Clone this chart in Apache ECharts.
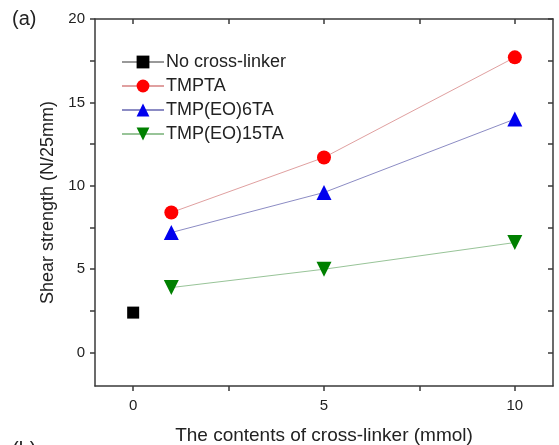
<!DOCTYPE html>
<html>
<head>
<meta charset="utf-8">
<script src="https://cdn.jsdelivr.net/npm/echarts@6/dist/echarts.min.js"></script>
<style>
html, body { margin: 0; padding: 0; background: #fff; }
#main { width: 559px; height: 445px; }
</style>
</head>
<body>
<div id="main"></div>
<script>
// contents of cross-linker (mmol)
var xContents = [1, 5, 10];
var noCrossX = [0];
var noCross = [2.4];
var tmpta = [8.4, 11.7, 17.7];
var tmpEo6 = [7.2, 9.6, 14.0];
var tmpEo15 = [3.9, 5.0, 6.6];
var xTicks = [0, 2.5, 5, 7.5, 10];
var xLabels = [0, 5, 10];
var yTicks = [0, 2.5, 5, 7.5, 10, 12.5, 15, 17.5, 20];
var yLabels = [0, 5, 10, 15, 20];

function pairs(xs, ys) {
	return xs.map(function(x, i) { return [x, ys[i]]; });
}

var font = 'Liberation Sans, Arial, sans-serif';
var axisCol = '#3a3a3a';

function xAx(pos, show) {
	return {
		type: 'value', position: pos, min: -1, max: 11,
		name: show ? 'The contents of cross-linker (mmol)' : '',
		nameLocation: 'middle', nameGap: 40,
		nameTextStyle: { fontFamily: font, fontSize: 19, color: '#222' },
		axisLine: { show: true, onZero: false, lineStyle: { color: axisCol, width: 1.5 } },
		axisTick: { show: true, inside: !show, length: 5, customValues: xTicks, lineStyle: { color: axisCol, width: 1.5 } },
		axisLabel: { show: show, customValues: xLabels, fontFamily: font, fontSize: 15, color: '#222', margin: 12 },
		splitLine: { show: false }
	};
}
function yAx(pos, show) {
	return {
		type: 'value', position: pos, min: -2, max: 20,
		name: show ? 'Shear strength (N/25mm)' : '',
		nameLocation: 'middle', nameGap: 35,
		nameTextStyle: { fontFamily: font, fontSize: 18, color: '#222' },
		axisLine: { show: true, onZero: false, lineStyle: { color: axisCol, width: 1.5 } },
		axisTick: { show: true, inside: !show, length: 5, customValues: yTicks, lineStyle: { color: axisCol, width: 1.5 } },
		axisLabel: { show: show, customValues: yLabels, fontFamily: font, fontSize: 15, color: '#222', margin: 10 },
		splitLine: { show: false }
	};
}

function ser(name, data, symbol, size, color, lineColor, rotate) {
	return {
		name: name, type: 'line', data: data,
		symbol: symbol, symbolSize: size, symbolRotate: rotate || 0,
		itemStyle: { color: color },
		lineStyle: { color: lineColor, width: 1 },
		z: 3
	};
}

var chart = echarts.init(document.getElementById('main'));
chart.setOption({
	animation: false,
	backgroundColor: '#fff',
	grid: { left: 95, right: 6, top: 19, bottom: 59, outerBoundsMode: 'none', containLabel: false },
	xAxis: [xAx('bottom', true), xAx('top', false)],
	yAxis: [yAx('left', true), yAx('right', false)],
	legend: {
		orient: 'vertical', left: 116, top: 48,
		itemWidth: 42, itemHeight: 16, itemGap: 6,
		textStyle: { fontFamily: font, fontSize: 18, color: '#222', padding: [0, 0, 0, -3] },
		data: ['No cross-linker', 'TMPTA', 'TMP(EO)6TA', 'TMP(EO)15TA']
	},
	graphic: [
		{ type: 'text', left: 12, top: 9, style: { text: '(a)', font: '20px ' + font, fill: '#222' } },
		{ type: 'text', left: 12, top: 440, style: { text: '(b)', font: '20px ' + font, fill: '#222' } }
	],
	series: [
		ser('No cross-linker', pairs(noCrossX, noCross), 'rect', 12, '#000', '#999'),
		ser('TMPTA', pairs(xContents, tmpta), 'circle', 14, '#f00', '#e0a0a0'),
		ser('TMP(EO)6TA', pairs(xContents, tmpEo6), 'triangle', 15, '#0000ee', '#8c8cc4'),
		ser('TMP(EO)15TA', pairs(xContents, tmpEo15), 'triangle', 15, '#008000', '#98c498', 180)
	]
});
</script>
</body>
</html>
